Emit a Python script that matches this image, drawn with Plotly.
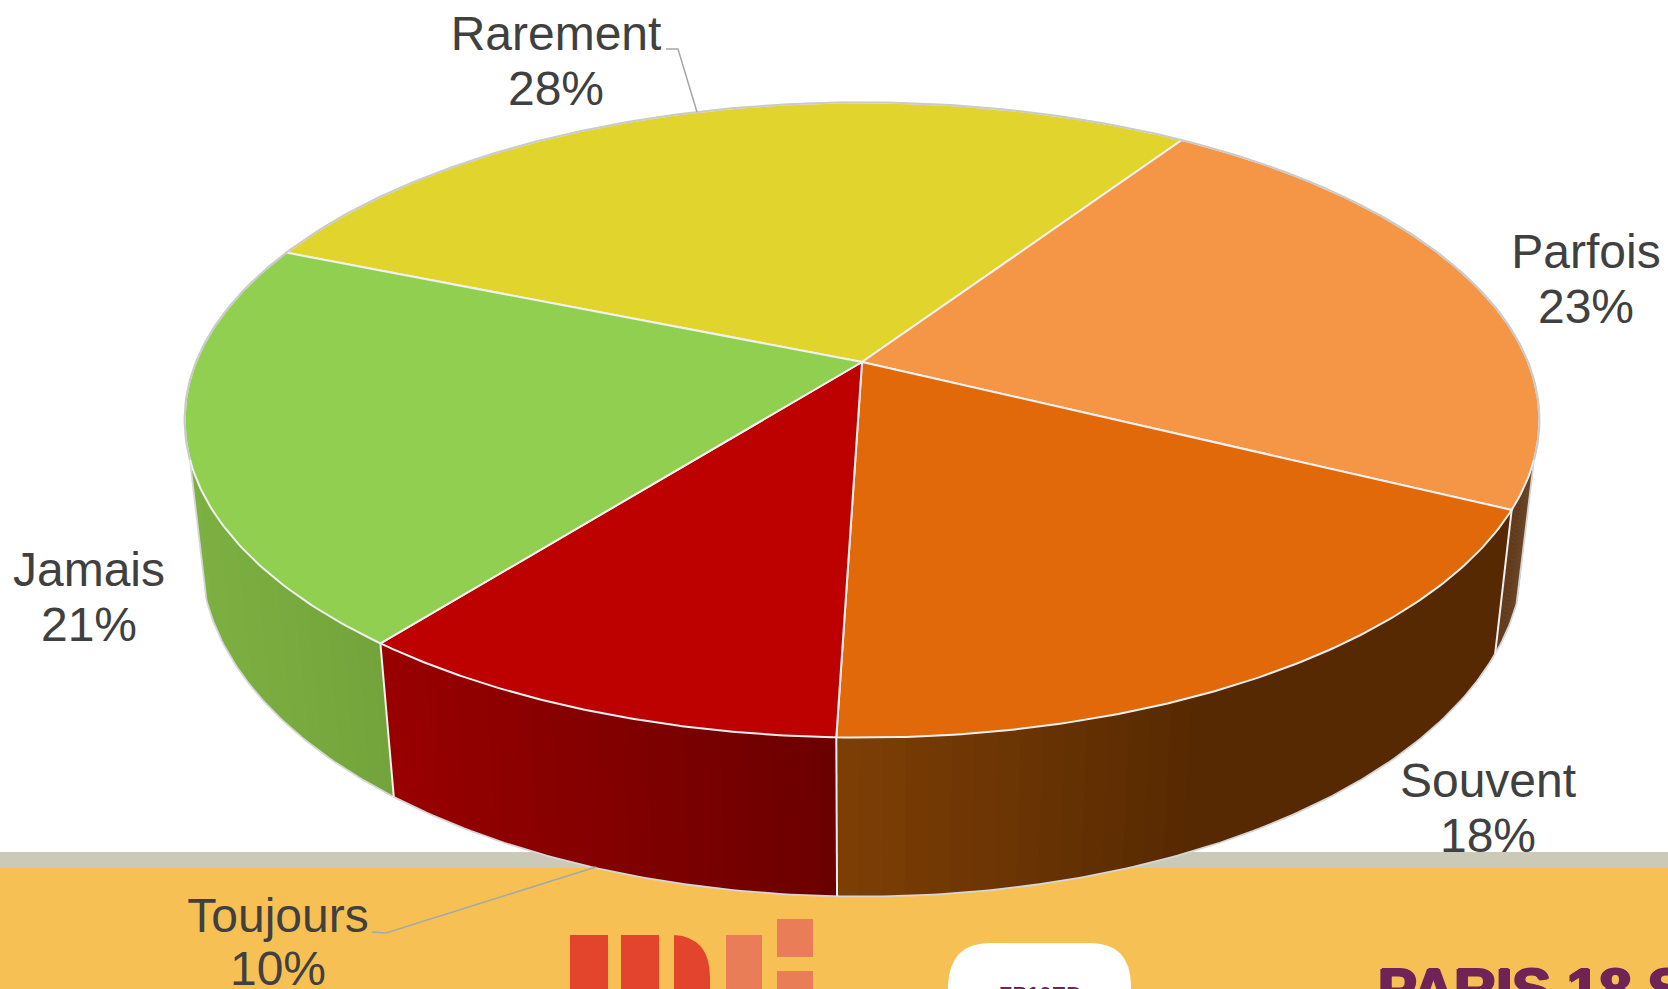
import numpy as np
import plotly.graph_objects as go

# ---- data ----
categories = ["Rarement", "Parfois", "Souvent", "Toujours", "Jamais"]
percent_labels = [28, 23, 18, 10, 21]
slice_values = [28.11, 22.97, 18.20, 10.13, 20.59]

# ---- styles ----
top_colors = ["#E1D52D", "#F59647", "#E2690A", "#BD0000", "#90CF50"]
side_start = [None, "#613A1B", "#7E3F05", "#980000", "#7DB042"]
side_end = [None, "#613A1B", "#572902", "#6A0000", "#72A33B"]
label_line1_y = [38, 256, 785, 920, 574]
label_line2_y = [93, 311, 840, 973, 629]
label_x = [556, 1586, 1488, 278, 89]
FONT = "Liberation Sans, Arial, sans-serif"
TXT = "#404040"
EDGE = "#F0F0F0"
RIM = "#CACACA"

# ---- perspective camera for the disc (page pixels) ----
W, H = 1668, 989
X0, Y0 = 862.0, 362.0
A, B, P = 666.0, 307.0, 0.1826
VX, VY = 862.0, 6170.0
START = -67.6
WALL_RIGHT, WALL_LEFT = 107.5, 252.5


def top_xy(deg):
    r = np.radians(deg)
    u, v = np.sin(r), np.cos(r)
    s = 1 + P * v
    return X0 + A * u / s, Y0 - B * v / s


def bot_xy(deg):
    x, y = top_xy(deg)
    t = 0.9776 + 0.00686 * np.cos(np.radians(deg))
    return VX + t * (x - VX), VY + t * (y - VY)


def hex2rgb(h):
    return np.array([int(h[i:i + 2], 16) for i in (1, 3, 5)], float)


def lerp(c1, c2, f):
    c = hex2rgb(c1) * (1 - f) + hex2rgb(c2) * f
    return "rgb(%d,%d,%d)" % tuple(np.round(c))


fig = go.Figure()


def poly(x, y, fill, line=None, width=0):
    fig.add_trace(go.Scatter(
        x=list(x) + [x[0]], y=list(y) + [y[0]], mode="lines", fill="toself",
        fillcolor=fill, line=dict(color=line or fill, width=width),
        hoverinfo="skip", showlegend=False))


def seg(x, y, color, width):
    fig.add_trace(go.Scatter(x=list(x), y=list(y), mode="lines",
                             line=dict(color=color, width=width),
                             hoverinfo="skip", showlegend=False))


def label(i, which):
    txt = categories[i] if which == 0 else f"{percent_labels[i]}%"
    yy = label_line1_y[i] if which == 0 else label_line2_y[i]
    fig.add_trace(go.Scatter(x=[label_x[i]], y=[yy], mode="text", text=[txt],
                             textposition="middle center", cliponaxis=False,
                             textfont=dict(family=FONT, size=48, color=TXT),
                             hoverinfo="skip", showlegend=False))


# Souvent label goes under the grey band, which cuts its second line
label(2, 0)
label(2, 1)

# page bands
poly([0, W, W, 0], [852, 852, 868, 868], "#CBCAB8")
poly([0, W, W, 0], [868, 868, H + 5, H + 5], "#F7C055")

# slice angles from the values
edges = START + np.concatenate([[0], np.cumsum(slice_values)]) * 360.0 / sum(slice_values)

# side walls
wall_ranges = [None, (WALL_RIGHT, edges[2]), (edges[2], edges[3]), (edges[3], edges[4]), (edges[4], WALL_LEFT)]
grad_x = [None, (0, 1), (838, 1200), (395, 838), (190, 395)]
for i in [1, 4, 3, 2]:
    a0, a1 = wall_ranges[i]
    n = 40
    ang = np.linspace(a0, a1, n + 1)
    for k in range(n):
        # each strip overlaps the next, so no background shows between them
        a_end = ang[min(k + 2, n)]
        xt0, yt0 = top_xy(ang[k])
        xt1, yt1 = top_xy(a_end)
        xb0, yb0 = bot_xy(ang[k])
        xb1, yb1 = bot_xy(a_end)
        f = np.clip((top_xy((ang[k] + ang[k + 1]) / 2)[0] - grad_x[i][0]) / (grad_x[i][1] - grad_x[i][0]), 0, 1)
        col = lerp(side_start[i], side_end[i], f)
        poly([xt0, xt1, xb1, xb0], [yt0, yt1, yb1, yb0], col)

# rim of the bottom disc, with the straight silhouette edges
ang = np.linspace(WALL_RIGHT, WALL_LEFT, 240)
bx, by = zip(*[bot_xy(a) for a in ang])
xl, yl = top_xy(WALL_LEFT)
xr, yr = top_xy(WALL_RIGHT)
seg([xr] + list(bx) + [xl], [yr] + list(by) + [yl], "#D6D6D6", 1.8)

# vertical seams
for e in edges[2:5]:
    xa, ya = top_xy(e)
    xb, yb = bot_xy(e)
    seg([xa, xb], [ya, yb], EDGE, 2)

# top wedges
for i in range(5):
    ang = np.linspace(edges[i], edges[i + 1], 120)
    xs, ys = zip(*[top_xy(a) for a in ang])
    poly([X0] + list(xs), [Y0] + list(ys), top_colors[i], EDGE, 2)

# outer rim of the top disc on white
ang = np.linspace(-WALL_RIGHT, WALL_RIGHT, 300)
tx, ty = zip(*[top_xy(a) for a in ang])
seg(tx, ty, RIM, 2)

# remaining labels
for i in [0, 1, 3, 4]:
    label(i, 0)
    label(i, 1)

# leader lines
seg([666, 678, 697], [49, 49, 112], "#A6A6A6", 1.5)
seg([372, 386, 596], [932, 933, 867], "#A3A9A6", 1.6)

# logos on the page band (background picture)
RED, SAL = "#E2442C", "#E97D57"
shapes = []
for x0, x1, c, y0, y1 in [(570, 608, RED, 935, 995), (621, 659, RED, 935, 995),
                          (726, 762, SAL, 935, 995), (777, 813, SAL, 919, 957),
                          (777, 813, SAL, 971, 995)]:
    shapes.append(dict(type="rect", x0=x0, x1=x1, y0=y0, y1=y1, fillcolor=c, line_width=0, layer="above"))
shapes.append(dict(type="path", path="M 674 935 Q 710 937 710 978 L 710 995 L 674 995 Z",
                   fillcolor=RED, line_width=0, layer="above"))
shapes.append(dict(type="path",
                   path="M 948 995 L 948 985 Q 950 943 990 943 L 1090 943 Q 1130 943 1131 985 L 1131 995 Z",
                   fillcolor="#FFFFFF", line_width=0, layer="above"))

SH = "1.5px 0 0 #702456, -1.5px 0 0 #702456, 0 1px 0 #702456, 0 -1px 0 #702456"
fig.add_annotation(x=1379, y=963, text="<b>PARIS 18 S</b>", showarrow=False, xanchor="left", yanchor="top",
                   font=dict(family=FONT, size=58, color="#702456", shadow=SH), borderpad=0, yshift=8, xshift=-2)
fig.add_annotation(x=1040, y=985, text="<b>ZP10ED</b>", showarrow=False, xanchor="center", yanchor="top",
                   font=dict(family=FONT, size=22, color="#702456"), borderpad=0, yshift=4)

fig.update_layout(
    width=W, height=H, margin=dict(l=0, r=0, t=0, b=0),
    paper_bgcolor="white", plot_bgcolor="white", showlegend=False, shapes=shapes,
    xaxis=dict(range=[0, W], visible=False, fixedrange=True),
    yaxis=dict(range=[H, 0], visible=False, fixedrange=True),
)
fig.write_html("out.html", config={"displayModeBar": False},
               post_script="document.body.style.margin='0';document.body.style.overflow='hidden';")
